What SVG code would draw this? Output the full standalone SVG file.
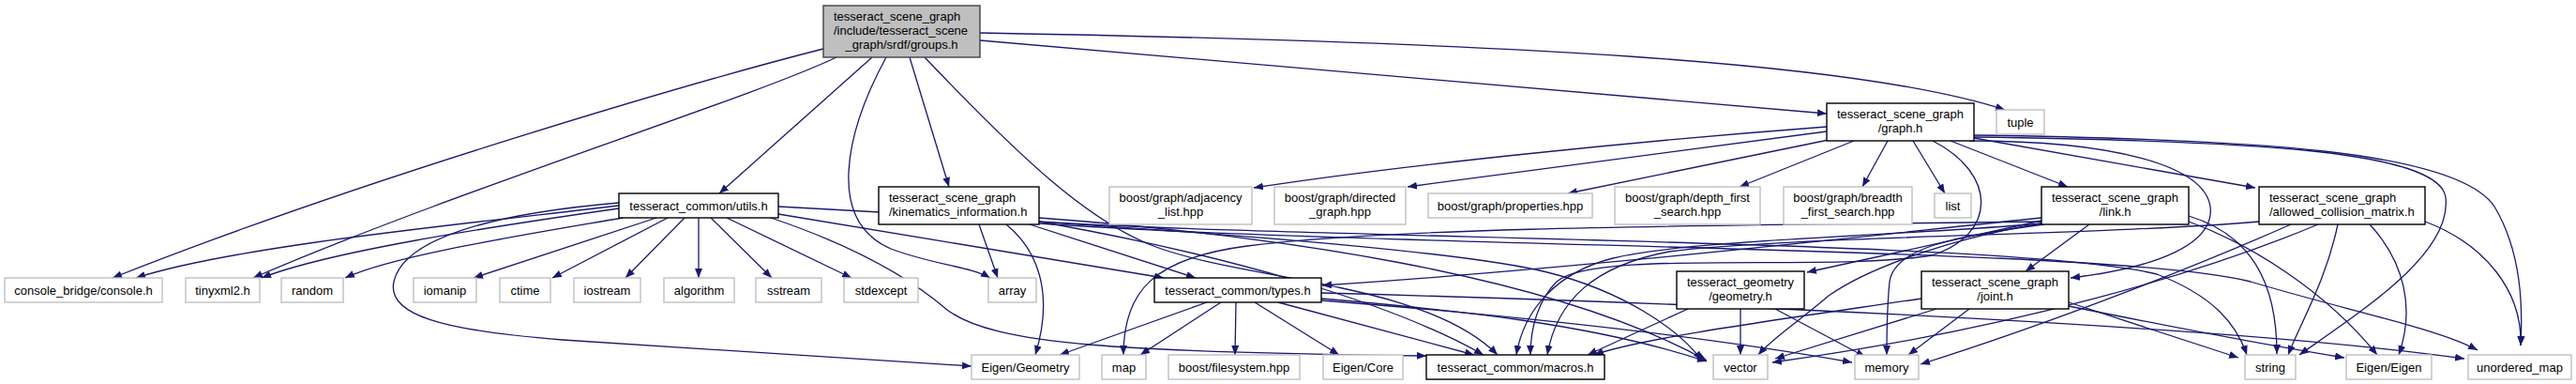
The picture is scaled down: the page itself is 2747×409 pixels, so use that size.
<svg xmlns="http://www.w3.org/2000/svg" width="2747" height="409" viewBox="0 0 2747 409">
<style>
text{font-family:"Liberation Sans",Arial,sans-serif;font-size:13px;fill:#000}
.c{text-anchor:middle}
.s{text-anchor:start}
.d rect{fill:#fff;stroke:#000;stroke-width:1.4}
.x rect{fill:#fff;stroke:#bfbfbf;stroke-width:1.4}
.r rect{fill:#bfbfbf;stroke:#404040;stroke-width:1.4}
#edges path{fill:none;stroke:#191970;stroke-width:1.3}
</style>
<defs>
<marker id="a" viewBox="0 0 10 8" markerWidth="10" markerHeight="8" refX="10" refY="4" orient="auto" markerUnits="userSpaceOnUse"><path d="M0,0 L10,4 L0,8 z" fill="#191970"/></marker>
</defs>
<rect width="2747" height="409" fill="#fff"/>
<g id="edges" marker-end="url(#a)">
<path d="M878,52 C760,82 400,185 120,296" marker-end="url(#a)"/>
<path d="M892,61 C800,105 480,205 270,296" marker-end="url(#a)"/>
<path d="M930,61 L767,206" marker-end="url(#a)"/>
<path d="M945,61 C902,140 880,235 950,265 C995,282 1035,284 1056,296" marker-end="url(#a)"/>
<path d="M970,61 L1012,199" marker-end="url(#a)"/>
<path d="M986,61 C1090,170 1160,235 1230,262 C1330,300 1520,300 1597,378" marker-end="url(#a)"/>
<path d="M1045,43 L1948,121" marker-end="url(#a)"/>
<path d="M1045,35 C1600,45 1980,65 2138,117" marker-end="url(#a)"/>
<path d="M660,219 C500,238 250,262 145,296" marker-end="url(#a)"/>
<path d="M660,222 C520,242 350,268 279,296" marker-end="url(#a)"/>
<path d="M664,232 C560,250 420,272 368,296" marker-end="url(#a)"/>
<path d="M700,232 L505,296" marker-end="url(#a)"/>
<path d="M712,232 L589,296" marker-end="url(#a)"/>
<path d="M730,232 L667,296" marker-end="url(#a)"/>
<path d="M745,232 L745,296" marker-end="url(#a)"/>
<path d="M758,232 L823,296" marker-end="url(#a)"/>
<path d="M775,232 L908,296" marker-end="url(#a)"/>
<path d="M830,228 L1241,296" marker-end="url(#a)"/>
<path d="M660,216 C520,228 430,255 420,300 C412,335 470,352 600,362 C800,375 950,385 1036,390" marker-end="url(#a)"/>
<path d="M822,232 C920,265 975,300 1010,330 C1060,368 1200,375 1521,379" marker-end="url(#a)"/>
<path d="M830,220 C1200,240 1550,265 1650,290 C1730,310 1790,350 1815,384" marker-end="url(#a)"/>
<path d="M1044,239 L1064,296" marker-end="url(#a)"/>
<path d="M1073,239 C1105,265 1125,310 1104,378" marker-end="url(#a)"/>
<path d="M1098,239 L1275,296" marker-end="url(#a)"/>
<path d="M1108,236 C1300,270 1480,320 1582,378" marker-end="url(#a)"/>
<path d="M1108,232 C1350,250 1650,290 1820,384" marker-end="url(#a)"/>
<path d="M1108,236 C1400,255 2150,255 2300,292 C2360,315 2385,345 2396,378" marker-end="url(#a)"/>
<path d="M1108,238 C1500,265 2250,262 2400,300 C2500,330 2600,350 2642,373" marker-end="url(#a)"/>
<path d="M1287,322 L1130,378" marker-end="url(#a)"/>
<path d="M1302,322 L1216,378" marker-end="url(#a)"/>
<path d="M1318,322 L1317,378" marker-end="url(#a)"/>
<path d="M1338,322 L1428,378" marker-end="url(#a)"/>
<path d="M1363,322 L1572,378" marker-end="url(#a)"/>
<path d="M1409,318 C1550,330 1700,345 1820,385" marker-end="url(#a)"/>
<path d="M1409,320 C1600,335 1800,355 1975,386" marker-end="url(#a)"/>
<path d="M1409,312 C1900,325 2400,350 2628,382" marker-end="url(#a)"/>
<path d="M1948,135 C1750,150 1500,175 1337,200" marker-end="url(#a)"/>
<path d="M1948,140 L1501,199" marker-end="url(#a)"/>
<path d="M1950,149 L1672,206" marker-end="url(#a)"/>
<path d="M1977,150 L1855,199" marker-end="url(#a)"/>
<path d="M2013,150 L1986,199" marker-end="url(#a)"/>
<path d="M2040,150 L2074,206" marker-end="url(#a)"/>
<path d="M2080,150 L2205,199" marker-end="url(#a)"/>
<path d="M2105,147 L2405,200" marker-end="url(#a)"/>
<path d="M2100,150 C2250,150 2350,175 2357,220 C2362,260 2300,285 2208,296" marker-end="url(#a)"/>
<path d="M2061,150 C2130,185 2130,250 2060,272 C1950,290 1700,265 1660,300 C1640,320 1632,350 1632,378" marker-end="url(#a)"/>
<path d="M2105,146 C2400,150 2600,160 2608,210 C2615,270 2520,330 2452,378" marker-end="url(#a)"/>
<path d="M2105,144 C2400,148 2620,160 2660,220 C2690,270 2690,330 2688,368" marker-end="url(#a)"/>
<path d="M2177,232 C2000,250 1700,285 1410,304" marker-end="url(#a)"/>
<path d="M2177,235 L1927,290" marker-end="url(#a)"/>
<path d="M2228,239 L2160,289" marker-end="url(#a)"/>
<path d="M2177,238 C2050,250 1800,255 1720,275 C1660,290 1625,330 1617,378" marker-end="url(#a)"/>
<path d="M2177,236 C1900,240 1500,240 1330,262 C1230,275 1198,310 1198,378" marker-end="url(#a)"/>
<path d="M2180,239 C2080,252 2020,265 2015,300 C2012,330 2012,350 2012,378" marker-end="url(#a)"/>
<path d="M2177,238 C2100,250 2000,280 1950,315 C1915,345 1890,360 1875,378" marker-end="url(#a)"/>
<path d="M2334,230 C2400,250 2428,300 2428,377" marker-end="url(#a)"/>
<path d="M2334,236 C2400,260 2480,310 2535,378" marker-end="url(#a)"/>
<path d="M2409,236 C2250,250 1900,252 1780,268 C1700,283 1660,320 1650,378" marker-end="url(#a)"/>
<path d="M2493,239 C2480,300 2455,340 2440,378" marker-end="url(#a)"/>
<path d="M2527,239 C2565,280 2575,330 2558,378" marker-end="url(#a)"/>
<path d="M2586,236 C2650,260 2690,310 2688,368" marker-end="url(#a)"/>
<path d="M2443,239 C2350,280 2200,340 2048,388" marker-end="url(#a)"/>
<path d="M2472,239 C2350,290 2150,350 1890,386" marker-end="url(#a)"/>
<path d="M2049,318 C1900,340 1750,360 1700,378" marker-end="url(#a)"/>
<path d="M2065,329 L1893,382" marker-end="url(#a)"/>
<path d="M2100,329 L2035,378" marker-end="url(#a)"/>
<path d="M2206,322 L2387,381" marker-end="url(#a)"/>
<path d="M2206,326 C2300,345 2400,365 2500,381" marker-end="url(#a)"/>
<path d="M1856,329 L1856,378" marker-end="url(#a)"/>
<path d="M1893,329 L1989,380" marker-end="url(#a)"/>
<path d="M1800,329 L1693,378" marker-end="url(#a)"/>
</g>
<g id="n_groups" class="r"><rect x="878" y="6" width="167" height="55"/><text class="s" x="889" y="21.5">tesseract_scene_graph</text><text class="s" x="889" y="36.5">/include/tesseract_scene</text><text class="c" x="961.5" y="51.5">_graph/srdf/groups.h</text></g>
<g id="n_graph" class="d"><rect x="1948" y="110" width="157" height="40"/><text class="c" x="2026.5" y="125.5">tesseract_scene_graph</text><text class="c" x="2026.5" y="140.5">/graph.h</text></g>
<g id="n_tuple" class="x"><rect x="2129" y="117" width="51" height="26"/><text class="c" x="2154.5" y="134.5">tuple</text></g>
<g id="n_utils" class="d"><rect x="660" y="206" width="170" height="26"/><text class="c" x="745" y="223.5">tesseract_common/utils.h</text></g>
<g id="n_kin" class="d"><rect x="937" y="199" width="171" height="40"/><text class="s" x="948" y="214.5">tesseract_scene_graph</text><text class="s" x="948" y="229.5">/kinematics_information.h</text></g>
<g id="n_adj" class="x"><rect x="1183" y="199" width="152" height="40"/><text class="c" x="1259" y="214.5">boost/graph/adjacency</text><text class="c" x="1259" y="229.5">_list.hpp</text></g>
<g id="n_dir" class="x"><rect x="1359" y="199" width="140" height="40"/><text class="c" x="1429" y="214.5">boost/graph/directed</text><text class="c" x="1429" y="229.5">_graph.hpp</text></g>
<g id="n_prop" class="x"><rect x="1523" y="206" width="175" height="26"/><text class="c" x="1610.5" y="223.5">boost/graph/properties.hpp</text></g>
<g id="n_dfs" class="x"><rect x="1722" y="199" width="155" height="40"/><text class="c" x="1799.5" y="214.5">boost/graph/depth_first</text><text class="c" x="1799.5" y="229.5">_search.hpp</text></g>
<g id="n_bfs" class="x"><rect x="1902" y="199" width="137" height="40"/><text class="c" x="1970.5" y="214.5">boost/graph/breadth</text><text class="c" x="1970.5" y="229.5">_first_search.hpp</text></g>
<g id="n_list" class="x"><rect x="2063" y="206" width="39" height="26"/><text class="c" x="2082.5" y="223.5">list</text></g>
<g id="n_link" class="d"><rect x="2177" y="199" width="157" height="40"/><text class="c" x="2255.5" y="214.5">tesseract_scene_graph</text><text class="c" x="2255.5" y="229.5">/link.h</text></g>
<g id="n_acm" class="d"><rect x="2409" y="199" width="177" height="40"/><text class="s" x="2420" y="214.5">tesseract_scene_graph</text><text class="s" x="2420" y="229.5">/allowed_collision_matrix.h</text></g>
<g id="n_console" class="x"><rect x="5" y="296" width="168" height="26"/><text class="c" x="89" y="313.5">console_bridge/console.h</text></g>
<g id="n_tinyxml" class="x"><rect x="198" y="296" width="79" height="26"/><text class="c" x="237.5" y="313.5">tinyxml2.h</text></g>
<g id="n_random" class="x"><rect x="300" y="296" width="66" height="26"/><text class="c" x="333" y="313.5">random</text></g>
<g id="n_iomanip" class="x"><rect x="441" y="296" width="67" height="26"/><text class="c" x="474.5" y="313.5">iomanip</text></g>
<g id="n_ctime" class="x"><rect x="533" y="296" width="54" height="26"/><text class="c" x="560" y="313.5">ctime</text></g>
<g id="n_iostream" class="x"><rect x="612" y="296" width="71" height="26"/><text class="c" x="647.5" y="313.5">iostream</text></g>
<g id="n_algorithm" class="x"><rect x="708" y="296" width="75" height="26"/><text class="c" x="745.5" y="313.5">algorithm</text></g>
<g id="n_sstream" class="x"><rect x="806" y="296" width="70" height="26"/><text class="c" x="841" y="313.5">sstream</text></g>
<g id="n_stdexcept" class="x"><rect x="900" y="296" width="79" height="26"/><text class="c" x="939.5" y="313.5">stdexcept</text></g>
<g id="n_array" class="x"><rect x="1054" y="296" width="51" height="26"/><text class="c" x="1079.5" y="313.5">array</text></g>
<g id="n_types" class="d"><rect x="1231" y="296" width="178" height="26"/><text class="c" x="1320" y="313.5">tesseract_common/types.h</text></g>
<g id="n_geometry" class="d"><rect x="1788" y="289" width="136" height="40"/><text class="c" x="1856" y="304.5">tesseract_geometry</text><text class="c" x="1856" y="319.5">/geometry.h</text></g>
<g id="n_joint" class="d"><rect x="2049" y="289" width="157" height="40"/><text class="c" x="2127.5" y="304.5">tesseract_scene_graph</text><text class="c" x="2127.5" y="319.5">/joint.h</text></g>
<g id="n_egeo" class="x"><rect x="1036" y="378" width="115" height="26"/><text class="c" x="1093.5" y="395.5">Eigen/Geometry</text></g>
<g id="n_map" class="x"><rect x="1175" y="378" width="47" height="26"/><text class="c" x="1198.5" y="395.5">map</text></g>
<g id="n_fs" class="x"><rect x="1246" y="378" width="140" height="26"/><text class="c" x="1316" y="395.5">boost/filesystem.hpp</text></g>
<g id="n_ecore" class="x"><rect x="1411" y="378" width="85" height="26"/><text class="c" x="1453.5" y="395.5">Eigen/Core</text></g>
<g id="n_macros" class="d"><rect x="1521" y="378" width="190" height="26"/><text class="c" x="1616" y="395.5">tesseract_common/macros.h</text></g>
<g id="n_vector" class="x"><rect x="1827" y="378" width="58" height="26"/><text class="c" x="1856" y="395.5">vector</text></g>
<g id="n_memory" class="x"><rect x="1978" y="378" width="68" height="26"/><text class="c" x="2012" y="395.5">memory</text></g>
<g id="n_string" class="x"><rect x="2394" y="378" width="54" height="26"/><text class="c" x="2421" y="395.5">string</text></g>
<g id="n_eeigen" class="x"><rect x="2502" y="378" width="91" height="26"/><text class="c" x="2547.5" y="395.5">Eigen/Eigen</text></g>
<g id="n_umap" class="x"><rect x="2632" y="378" width="110" height="26"/><text class="c" x="2687" y="395.5">unordered_map</text></g>
</svg>
